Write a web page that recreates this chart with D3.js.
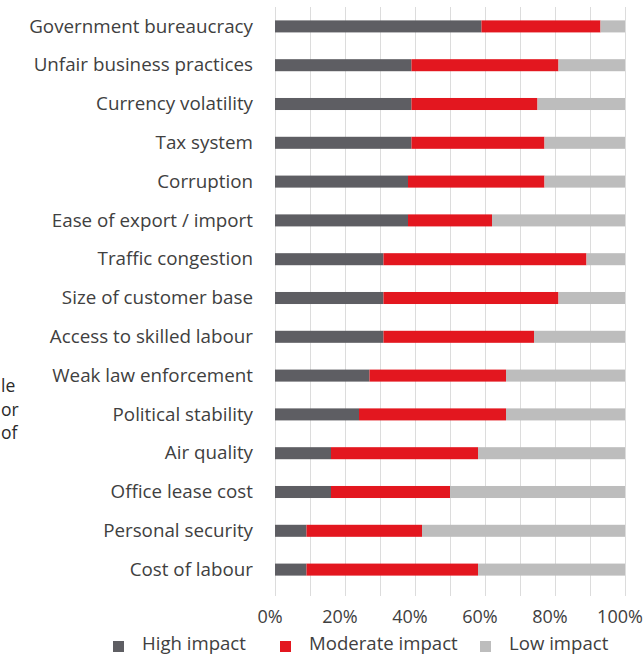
<!DOCTYPE html>
<html>
<head>
<meta charset="utf-8">
<script src="https://cdn.jsdelivr.net/npm/d3@7"></script>
<style>
  html, body { margin: 0; padding: 0; background: #fff; }
  svg { display: block; }
  text { font-family: "Open Sans", "Noto Sans", sans-serif; }
</style>
</head>
<body>
<svg id="chart" width="643" height="657"></svg>
<script>
// Obstacles to doing business, share of respondents by impact level (%)
const categories = [
  "Government bureaucracy",
  "Unfair business practices",
  "Currency volatility",
  "Tax system",
  "Corruption",
  "Ease of export / import",
  "Traffic congestion",
  "Size of customer base",
  "Access to skilled labour",
  "Weak law enforcement",
  "Political stability",
  "Air quality",
  "Office lease cost",
  "Personal security",
  "Cost of labour"
];
const highImpact     = [59, 39, 39, 39, 38, 38, 31, 31, 31, 27, 24, 16, 16, 9, 9];
const moderateImpact = [34, 42, 36, 38, 39, 24, 58, 50, 43, 39, 42, 42, 34, 33, 49];
const lowImpact      = [7, 19, 25, 23, 23, 38, 11, 19, 26, 34, 34, 42, 50, 58, 42];
const seriesNames = ["High impact", "Moderate impact", "Low impact"];
const seriesColors = ["#5e5e63", "#e3171f", "#bdbdbd"];
const tickValues = [0, 20, 40, 60, 80, 100];
const gridValues = [0, 10, 20, 30, 40, 50, 60, 70, 80, 90, 100];
const sideText = ["le", "or", "of"];

const rows = categories.map((c, i) => ({
  category: c,
  "High impact": highImpact[i],
  "Moderate impact": moderateImpact[i],
  "Low impact": lowImpact[i]
}));

const svg = d3.select("#chart");

const x = d3.scaleLinear().domain([0, 100]).range([275, 625]);
const y = d3.scaleBand().domain(categories).range([7, 589]).paddingInner(0.69).paddingOuter(0.345);
const color = d3.scaleOrdinal().domain(seriesNames).range(seriesColors);

// vertical grid lines every 10%
svg.append("g")
  .selectAll("line")
  .data(gridValues)
  .join("line")
  .attr("x1", d => x(d) + 0.5)
  .attr("x2", d => x(d) + 0.5)
  .attr("y1", 7)
  .attr("y2", 596)
  .attr("stroke", "#dcdcdc")
  .attr("stroke-width", 1);

// stacked bars
const stacked = d3.stack().keys(seriesNames)(rows);
svg.append("g")
  .selectAll("g")
  .data(stacked)
  .join("g")
  .attr("fill", d => color(d.key))
  .selectAll("rect")
  .data(d => d)
  .join("rect")
  .attr("x", d => x(d[0]))
  .attr("width", d => x(d[1]) - x(d[0]))
  .attr("y", d => y(d.data.category))
  .attr("height", y.bandwidth());

// category labels
svg.append("g")
  .selectAll("text")
  .data(categories)
  .join("text")
  .attr("x", 253)
  .attr("y", d => y(d) + y.bandwidth() / 2)
  .attr("dy", "0.33em")
  .attr("text-anchor", "end")
  .attr("font-size", 18.8)
  .attr("fill", "#404040")
  .text(d => d);

// percentage axis labels
svg.append("g")
  .selectAll("text")
  .data(tickValues)
  .join("text")
  .attr("x", d => x(d) - 5)
  .attr("y", 623)
  .attr("text-anchor", "middle")
  .attr("font-size", 18)
  .attr("fill", "#404040")
  .text(d => d + "%");

// legend
const legendX = [113, 280, 480];
const legend = svg.append("g");
seriesNames.forEach((name, i) => {
  legend.append("rect")
    .attr("x", legendX[i])
    .attr("y", 641)
    .attr("width", 11)
    .attr("height", 11)
    .attr("fill", color(name));
  legend.append("text")
    .attr("x", legendX[i] + 29)
    .attr("y", 650)
    .attr("font-size", 18.6)
    .attr("fill", "#404040")
    .text(name);
});

// fragment of neighbouring body text at the left edge
svg.append("g")
  .selectAll("text")
  .data(sideText)
  .join("text")
  .attr("x", 1)
  .attr("y", (d, i) => 392 + i * 23.5)
  .attr("text-anchor", "start")
  .attr("font-size", 17.5)
  .attr("fill", "#2a2a2a")
  .text(d => d);
</script>
</body>
</html>
